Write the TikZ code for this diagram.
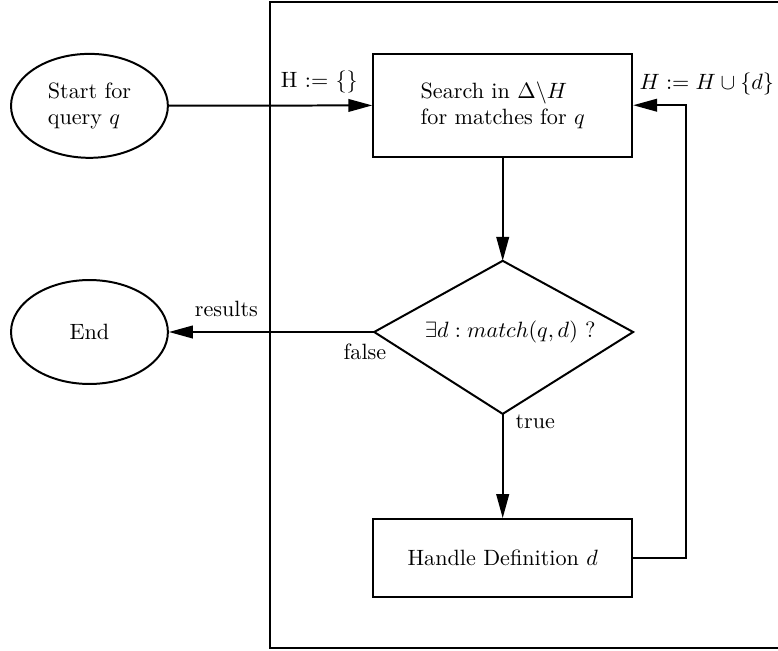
\documentclass[tikz,border=0pt]{standalone}
\usepackage{amsmath,amssymb}
\usepackage{tikz}
\usetikzlibrary{positioning,arrows.meta,shapes.geometric}

\begin{document}
\begin{tikzpicture}[>={Triangle[length=3.8mm,width=2mm]},line width=0.9pt,
  terminal/.style={draw,ellipse,minimum width=2.49cm,minimum height=1.65cm,inner sep=1pt,align=left},
  block/.style={draw,rectangle,minimum width=4.11cm,align=left}]
\useasboundingbox (0,0) rectangle (12.35,-10.32);
\draw (13,-0.03) -| (4.29,-10.29) -- (13,-10.29);
\node[terminal] (start) at (1.42,-1.68) {Start for\\query $q$};
\node[terminal] (end) at (1.42,-5.27) {End};
\node[block,minimum height=1.63cm] (search) at (7.98,-1.67) {Search in $\Delta\backslash H$\\for matches for $q$};
\node[block,minimum height=1.24cm] (handle) at (7.98,-8.86) {Handle Definition $d$};
% decision
\node (match) at (8.10,-5.27) {$\exists d : match(q,d)$ ?};
\coordinate (mtop) at (7.98,-4.14);
\coordinate (mright) at (10.05,-5.27);
\coordinate (mbot) at (7.98,-6.57);
\coordinate (mleft) at (5.94,-5.27);
\draw (mtop) -- (mright) -- (mbot) -- (mleft) -- cycle;
\coordinate (loop) at (10.89,-1.67);
\draw[->] (start) -- node[pos=0.74,above=2pt]{H := \{\}} (search);
\draw[->] (search) -- (mtop);
\draw[->] (mleft) -- node[pos=0.045,below=1.5pt]{false} node[pos=0.72,above=3pt]{results} (end);
\draw[->] (mbot) -- node[pos=0.08,right=2pt]{true} (handle);
\draw[->] (handle.east) -| (loop) -- (search.east);
\node (upd) at (11.22,-1.33) {$H := H \cup \{d\}$};
\end{tikzpicture}
\end{document}
